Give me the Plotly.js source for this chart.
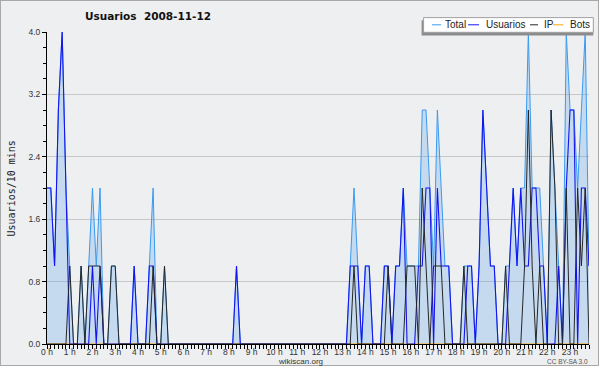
<!DOCTYPE html>
<html>
<head>
<meta charset="utf-8">
<script src="https://cdn.plot.ly/plotly-3.0.1.min.js"></script>
<style>
  html, body { margin: 0; padding: 0; background: #ffffff; }
  #frame { position: absolute; left: 0; top: 0; width: 597px; height: 364px; border: 1px solid #a8a8a8; background: #eeeff1; }
  #chart { position: absolute; left: 0; top: 0; width: 600px; height: 370px; }
</style>
</head>
<body>
<div id="frame"></div>
<div id="chart"></div>
<script>
// ---- data (10-minute steps, 0 h .. 23:50) ----
const seriesNames = ["Total", "Usuarios", "IP", "Bots"];
const hourTicks = [0,6,12,18,24,30,36,42,48,54,60,66,72,78,84,90,96,102,108,114,120,126,132,138];
const hourLabels = ["0 h","1 h","2 h","3 h","4 h","5 h","6 h","7 h","8 h","9 h","10 h","11 h",
                    "12 h","13 h","14 h","15 h","16 h","17 h","18 h","19 h","20 h","21 h","22 h","23 h"];
const yTickVals = [0, 0.8, 1.6, 2.4, 3.2, 4.0];
const yTickText = ["0.0", "0.8", "1.6", "2.4", "3.2", "4.0"];

const total = [
  2,2,1,3,4,2,  1,0,0,1,0,1,  2,1,2,0,0,1,  1,0,0,0,0,1,
  0,0,0,1,2,0,  0,1,0,0,0,0,  0,0,0,0,0,0,  0,0,0,0,0,0,
  0,0,1,0,0,0,  0,0,0,0,0,0,  0,0,0,0,0,0,  0,0,0,0,0,0,
  0,0,0,0,0,0,  0,0,1,2,1,0,  1,1,0,0,0,1,  1,0,1,1,2,1,
  1,1,1,3,3,2,  1,3,2,1,1,0,  0,0,1,1,1,0,  1,3,2,1,1,0,
  0,1,1,2,1,2,  2,4,2,2,2,1,  0,3,2,1,0,4,  3,3,2,3,4,1
];
const usuarios = [
  2,2,1,3,4,2,  0,0,0,0,0,0,  1,0,1,0,0,0,  0,0,0,0,0,1,
  0,0,0,1,1,0,  0,0,0,0,0,0,  0,0,0,0,0,0,  0,0,0,0,0,0,
  0,0,1,0,0,0,  0,0,0,0,0,0,  0,0,0,0,0,0,  0,0,0,0,0,0,
  0,0,0,0,0,0,  0,0,1,1,1,0,  1,1,0,0,0,1,  1,0,1,1,2,0,
  0,0,1,1,2,2,  0,2,1,1,1,0,  0,0,0,1,1,0,  1,3,2,1,1,0,
  0,0,1,2,1,2,  1,1,2,2,1,1,  0,0,0,1,0,2,  3,3,0,2,2,1
];
const ip = [
  0,0,0,0,0,0,  1,0,0,1,0,1,  1,1,1,0,0,1,  1,0,0,0,0,0,
  0,0,0,0,1,0,  0,1,0,0,0,0,  0,0,0,0,0,0,  0,0,0,0,0,0,
  0,0,0,0,0,0,  0,0,0,0,0,0,  0,0,0,0,0,0,  0,0,0,0,0,0,
  0,0,0,0,0,0,  0,0,0,1,0,0,  0,0,0,0,0,0,  1,0,0,0,0,1,
  1,1,0,2,1,0,  1,1,1,0,0,0,  0,0,1,0,0,0,  0,0,0,0,0,0,
  0,1,0,0,0,0,  1,3,1,0,1,0,  0,3,2,0,0,2,  0,0,2,1,2,0
];
const bots = [
  0,0,0,0,0,0,  0,0,0,0,0,0,  0,0,0,0,0,0,  0,0,0,0,0,0,
  0,0,0,0,0,0,  0,0,0,0,0,0,  0,0,0,0,0,0,  0,0,0,0,0,0,
  0,0,0,0,0,0,  0,0,0,0,0,0,  0,0,0,0,0,0,  0,0,0,0,0,0,
  0,0,0,0,0,0,  0,0,0,0,0,0,  0,0,0,0,0,0,  0,0,0,0,0,0,
  0,0,0,0,0,0,  0,0,0,0,0,0,  0,0,0,0,0,0,  0,0,0,0,0,0,
  0,0,0,0,0,0,  0,0,0,0,0,0,  0,0,0,0,0,0,  0,0,0,0,0,0
];
const steps = total.map((_, i) => i);

// ---- styling ----
const colors = ["#3a9af0", "#1414f0", "#262626", "#ffa500"];
const L = 46.7, R = 589, T = 31.7, B = 344;
const px = x => (x - L) / (R - L);
const py = y => (B - y) / (B - T);
const txt = "#333333";
const sans = "Liberation Sans, Arial, sans-serif";

const traces = [
  { x: steps, y: total, name: seriesNames[0], type: "scatter", mode: "lines",
    fill: "tozeroy", fillcolor: "rgba(60,150,230,0.23)",
    line: { color: colors[0], width: 1 } },
  { x: steps, y: bots, name: seriesNames[3], type: "scatter", mode: "lines",
    line: { color: colors[3], width: 1 } },
  { x: steps, y: usuarios, name: seriesNames[1], type: "scatter", mode: "lines",
    line: { color: colors[1], width: 1.1 } },
  { x: steps, y: ip, name: seriesNames[2], type: "scatter", mode: "lines",
    line: { color: colors[2], width: 1 } }
];

// manual legend (short line samples, as in the reference)
const legLines = [[432, 441], [468, 479], [530, 538], [553, 563]];
const legText = [443, 484, 542, 568];
const legY = 24.5;
const shapes = [
  { type: "rect", xref: "paper", yref: "paper", layer: "above",
    x0: px(421.5), x1: px(593.3), y0: py(35.2), y1: py(20),
    fillcolor: "#8c8c8c", line: { width: 0 } },
  { type: "rect", xref: "paper", yref: "paper", layer: "above",
    x0: px(423.5), x1: px(593.3), y0: py(32), y1: py(17.3),
    fillcolor: "#ffffff", line: { color: "#a0a0a0", width: 1 } }
];
const annotations = [];
seriesNames.forEach((n, i) => {
  shapes.push({ type: "line", xref: "paper", yref: "paper", layer: "above",
    x0: px(legLines[i][0]), x1: px(legLines[i][1]), y0: py(legY), y1: py(legY),
    line: { color: colors[i], width: 1 } });
  annotations.push({ xref: "paper", yref: "paper", x: px(legText[i]), y: py(legY),
    xanchor: "left", yanchor: "middle", showarrow: false, text: n,
    font: { family: sans, size: 10, color: "#222" } });
});
annotations.push(
  { xref: "paper", yref: "paper", x: px(11), y: py(188), textangle: -90,
    xanchor: "center", yanchor: "middle", showarrow: false, text: "Usuarios/10 mins",
    font: { family: "DejaVu Sans Mono, monospace", size: 10, color: "#222" } },
  { xref: "paper", yref: "paper", x: px(300), y: py(361.5), xanchor: "center", yanchor: "middle",
    showarrow: false, text: "wikiscan.org",
    font: { family: sans, size: 8, color: txt } },
  { xref: "paper", yref: "paper", x: px(590), y: py(362), xanchor: "right", yanchor: "middle",
    showarrow: false, text: "CC BY-SA 3.0",
    font: { family: sans, size: 6.5, color: "#555" } }
);

const layout = {
  width: 600, height: 370, autosize: false,
  margin: { l: L, r: 600 - R, t: T, b: 370 - B, pad: 0 },
  paper_bgcolor: "rgba(0,0,0,0)", plot_bgcolor: "rgba(0,0,0,0)",
  showlegend: false,
  title: { text: "Usuarios\u00a0\u00a02008-11-12", xref: "container", yref: "container",
    x: 85 / 600, xanchor: "left", y: 1 - 16 / 370, yanchor: "middle",
    font: { family: "DejaVu Sans, sans-serif", size: 10.5, weight: "bold", color: "#111" } },
  xaxis: {
    range: [0, 143], tickmode: "array", tickvals: hourTicks, ticktext: hourLabels,
    ticks: "", ticklen: 0,
    minor: { dtick: 1, tick0: 0, ticks: "outside", ticklen: 4, tickcolor: "#000", showgrid: false },
    showline: true, linecolor: "#000", linewidth: 1, showgrid: false, zeroline: false,
    tickfont: { family: sans, size: 8.5, color: txt },
    fixedrange: true
  },
  yaxis: {
    range: [0, 4], tickmode: "array", tickvals: yTickVals, ticktext: yTickText,
    ticks: "outside", ticklen: 4, tickcolor: "#000", tickwidth: 1,
    minor: { dtick: 0.2, tick0: 0, ticks: "outside", ticklen: 3, tickcolor: "#000", showgrid: false },
    showline: true, linecolor: "#000", linewidth: 1,
    showgrid: true, gridcolor: "#c8c8c8", gridwidth: 1, zeroline: false,
    tickfont: { family: sans, size: 8.5, color: txt },
    fixedrange: true
  },
  shapes: shapes,
  annotations: annotations
};

Plotly.newPlot("chart", traces, layout, { displayModeBar: false, staticPlot: true });
</script>
</body>
</html>
